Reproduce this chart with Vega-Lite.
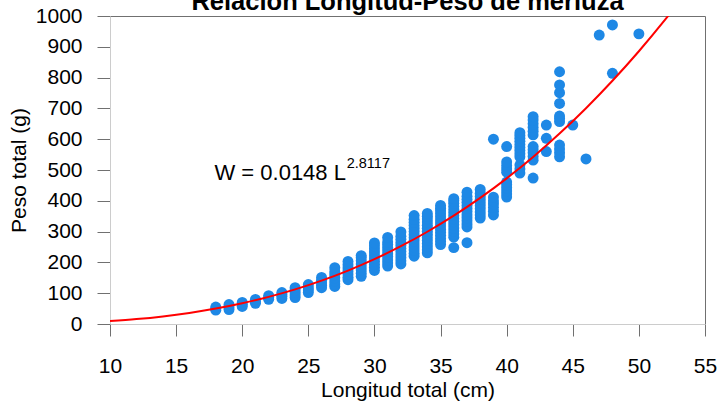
{
  "$schema": "https://vega.github.io/schema/vega-lite/v6.json",
  "autosize": {"type": "none"},
  "width": 595,
  "height": 308,
  "padding": {"left": 110, "top": 16, "right": 12, "bottom": 79},
  "background": "white",
  "config": {
    "font": "Liberation Sans",
    "view": {"stroke": "#707070", "strokeWidth": 1}
  },
  "title": {
    "text": "Relación Longitud-Peso de merluza",
    "font": "Liberation Sans",
    "fontSize": 25.5,
    "fontWeight": "bold",
    "color": "black",
    "anchor": "middle",
    "frame": "group",
    "baseline": "alphabetic",
    "offset": -30
  },
  "datasets": {
    "fish": [
      {"L": 18, "W": 45}, {"L": 18, "W": 50}, {"L": 18, "W": 55},
      {"L": 19, "W": 47}, {"L": 19, "W": 55}, {"L": 19, "W": 63},
      {"L": 20, "W": 57}, {"L": 20, "W": 63}, {"L": 20, "W": 70},
      {"L": 21, "W": 67}, {"L": 21, "W": 73}, {"L": 21, "W": 80},
      {"L": 22, "W": 80}, {"L": 22, "W": 86}, {"L": 22, "W": 92},
      {"L": 23, "W": 83}, {"L": 23, "W": 90}, {"L": 23, "W": 96}, {"L": 23, "W": 102},
      {"L": 24, "W": 86}, {"L": 24, "W": 94}, {"L": 24, "W": 102}, {"L": 24, "W": 110}, {"L": 24, "W": 118},
      {"L": 25, "W": 102}, {"L": 25, "W": 110}, {"L": 25, "W": 118}, {"L": 25, "W": 128},
      {"L": 26, "W": 118}, {"L": 26, "W": 126}, {"L": 26, "W": 134}, {"L": 26, "W": 142}, {"L": 26, "W": 151},
      {"L": 27, "W": 122}, {"L": 27, "W": 130}, {"L": 27, "W": 140}, {"L": 27, "W": 150}, {"L": 27, "W": 160}, {"L": 27, "W": 170}, {"L": 27, "W": 183},
      {"L": 28, "W": 144}, {"L": 28, "W": 152}, {"L": 28, "W": 162}, {"L": 28, "W": 172}, {"L": 28, "W": 182}, {"L": 28, "W": 192}, {"L": 28, "W": 203},
      {"L": 29, "W": 155}, {"L": 29, "W": 165}, {"L": 29, "W": 175}, {"L": 29, "W": 185}, {"L": 29, "W": 195}, {"L": 29, "W": 205}, {"L": 29, "W": 215}, {"L": 29, "W": 222},
      {"L": 30, "W": 174}, {"L": 30, "W": 184}, {"L": 30, "W": 194}, {"L": 30, "W": 204}, {"L": 30, "W": 214}, {"L": 30, "W": 224}, {"L": 30, "W": 234}, {"L": 30, "W": 244}, {"L": 30, "W": 254}, {"L": 30, "W": 263},
      {"L": 31, "W": 188}, {"L": 31, "W": 198}, {"L": 31, "W": 208}, {"L": 31, "W": 218}, {"L": 31, "W": 228}, {"L": 31, "W": 238}, {"L": 31, "W": 248}, {"L": 31, "W": 258}, {"L": 31, "W": 266}, {"L": 31, "W": 281},
      {"L": 32, "W": 195}, {"L": 32, "W": 205}, {"L": 32, "W": 215}, {"L": 32, "W": 225}, {"L": 32, "W": 235}, {"L": 32, "W": 245}, {"L": 32, "W": 255}, {"L": 32, "W": 265}, {"L": 32, "W": 275}, {"L": 32, "W": 285}, {"L": 32, "W": 299},
      {"L": 33, "W": 220}, {"L": 33, "W": 230}, {"L": 33, "W": 240}, {"L": 33, "W": 250}, {"L": 33, "W": 260}, {"L": 33, "W": 270}, {"L": 33, "W": 280}, {"L": 33, "W": 290}, {"L": 33, "W": 300}, {"L": 33, "W": 310}, {"L": 33, "W": 320}, {"L": 33, "W": 330}, {"L": 33, "W": 340}, {"L": 33, "W": 352},
      {"L": 34, "W": 231}, {"L": 34, "W": 241}, {"L": 34, "W": 251}, {"L": 34, "W": 261}, {"L": 34, "W": 271}, {"L": 34, "W": 281}, {"L": 34, "W": 291}, {"L": 34, "W": 301}, {"L": 34, "W": 311}, {"L": 34, "W": 321}, {"L": 34, "W": 331}, {"L": 34, "W": 341}, {"L": 34, "W": 350}, {"L": 34, "W": 359},
      {"L": 35, "W": 258}, {"L": 35, "W": 268}, {"L": 35, "W": 278}, {"L": 35, "W": 288}, {"L": 35, "W": 298}, {"L": 35, "W": 308}, {"L": 35, "W": 318}, {"L": 35, "W": 328}, {"L": 35, "W": 338}, {"L": 35, "W": 348}, {"L": 35, "W": 358}, {"L": 35, "W": 368}, {"L": 35, "W": 376}, {"L": 35, "W": 385},
      {"L": 36, "W": 248}, {"L": 36, "W": 282}, {"L": 36, "W": 292}, {"L": 36, "W": 302}, {"L": 36, "W": 312}, {"L": 36, "W": 322}, {"L": 36, "W": 332}, {"L": 36, "W": 342}, {"L": 36, "W": 352}, {"L": 36, "W": 362}, {"L": 36, "W": 372}, {"L": 36, "W": 382}, {"L": 36, "W": 392}, {"L": 36, "W": 400}, {"L": 36, "W": 407},
      {"L": 37, "W": 264}, {"L": 37, "W": 315}, {"L": 37, "W": 325}, {"L": 37, "W": 335}, {"L": 37, "W": 345}, {"L": 37, "W": 355}, {"L": 37, "W": 365}, {"L": 37, "W": 375}, {"L": 37, "W": 385}, {"L": 37, "W": 395}, {"L": 37, "W": 405}, {"L": 37, "W": 415}, {"L": 37, "W": 428},
      {"L": 38, "W": 344}, {"L": 38, "W": 354}, {"L": 38, "W": 364}, {"L": 38, "W": 374}, {"L": 38, "W": 384}, {"L": 38, "W": 394}, {"L": 38, "W": 404}, {"L": 38, "W": 414}, {"L": 38, "W": 424}, {"L": 38, "W": 437},
      {"L": 39, "W": 354}, {"L": 39, "W": 366}, {"L": 39, "W": 378}, {"L": 39, "W": 390}, {"L": 39, "W": 400}, {"L": 39, "W": 412}, {"L": 39, "W": 600},
      {"L": 40, "W": 412}, {"L": 40, "W": 422}, {"L": 40, "W": 432}, {"L": 40, "W": 442}, {"L": 40, "W": 452}, {"L": 40, "W": 461}, {"L": 40, "W": 493}, {"L": 40, "W": 503}, {"L": 40, "W": 514}, {"L": 40, "W": 526}, {"L": 40, "W": 576},
      {"L": 41, "W": 490}, {"L": 41, "W": 503}, {"L": 41, "W": 516}, {"L": 41, "W": 543}, {"L": 41, "W": 553}, {"L": 41, "W": 563}, {"L": 41, "W": 573}, {"L": 41, "W": 583}, {"L": 41, "W": 593}, {"L": 41, "W": 603}, {"L": 41, "W": 612}, {"L": 41, "W": 621},
      {"L": 42, "W": 474}, {"L": 42, "W": 532}, {"L": 42, "W": 544}, {"L": 42, "W": 556}, {"L": 42, "W": 566}, {"L": 42, "W": 576}, {"L": 42, "W": 614}, {"L": 42, "W": 626}, {"L": 42, "W": 638}, {"L": 42, "W": 650}, {"L": 42, "W": 662}, {"L": 42, "W": 673},
      {"L": 43, "W": 560}, {"L": 43, "W": 603}, {"L": 43, "W": 646},
      {"L": 44, "W": 543}, {"L": 44, "W": 556}, {"L": 44, "W": 568}, {"L": 44, "W": 581}, {"L": 44, "W": 657}, {"L": 44, "W": 667}, {"L": 44, "W": 675}, {"L": 44, "W": 716}, {"L": 44, "W": 751}, {"L": 44, "W": 776}, {"L": 44, "W": 819},
      {"L": 45, "W": 646},
      {"L": 46, "W": 536},
      {"L": 47, "W": 938},
      {"L": 48, "W": 814}, {"L": 48, "W": 971},
      {"L": 50, "W": 942}
    ],
    "curve": [
      {"L": 10, "W": 9.6}, {"L": 12, "W": 16.0}, {"L": 14, "W": 24.7}, {"L": 16, "W": 36.0},
      {"L": 18, "W": 50.1}, {"L": 20, "W": 67.4}, {"L": 22, "W": 88.1}, {"L": 24, "W": 112.5},
      {"L": 26, "W": 140.9}, {"L": 28, "W": 173.5}, {"L": 30, "W": 210.6}, {"L": 32, "W": 252.5},
      {"L": 34, "W": 299.5}, {"L": 36, "W": 351.7}, {"L": 38, "W": 409.4}, {"L": 40, "W": 472.9},
      {"L": 42, "W": 542.4}, {"L": 44, "W": 618.2}, {"L": 46, "W": 700.5}, {"L": 48, "W": 789.6},
      {"L": 50, "W": 885.6}, {"L": 52, "W": 988.9}, {"L": 53, "W": 1043}
    ],
    "labels": [
      {"L": 17.9, "W": 467, "text": "W = 0.0148 L", "size": "big"},
      {"L": 27.9, "W": 508, "text": "2.8117", "size": "small"}
    ]
  },
  "encoding": {
    "x": {
      "field": "L",
      "type": "quantitative",
      "scale": {"domain": [10, 55], "nice": false, "zero": false},
      "axis": {
        "title": "Longitud total (cm)",
        "values": [10, 15, 20, 25, 30, 35, 40, 45, 50, 55],
        "format": "d",
        "grid": false,
        "domainColor": "#cccccc",
        "tickColor": "#707070",
        "tickSize": 12,
        "labelFontSize": 21,
        "labelColor": "black",
        "labelPadding": 19,
        "labelFlush": false,
        "titleFontSize": 21,
        "titleFontWeight": "normal",
        "titleColor": "black",
        "titlePadding": 3
      }
    },
    "y": {
      "field": "W",
      "type": "quantitative",
      "scale": {"domain": [0, 1000], "nice": false},
      "axis": {
        "title": "Peso total (g)",
        "values": [0, 100, 200, 300, 400, 500, 600, 700, 800, 900, 1000],
        "format": "d",
        "grid": false,
        "domainColor": "#cccccc",
        "tickColor": "#707070",
        "tickSize": 13,
        "labelFontSize": 21,
        "labelColor": "black",
        "labelPadding": 15,
        "labelFlush": false,
        "titleFontSize": 21,
        "titleFontWeight": "normal",
        "titleColor": "black",
        "titlePadding": 6
      }
    }
  },
  "layer": [
    {
      "data": {"name": "fish"},
      "mark": {"type": "circle", "size": 120, "color": "#1E88E5", "opacity": 1}
    },
    {
      "data": {"name": "curve"},
      "mark": {"type": "line", "color": "#FF0000", "strokeWidth": 2, "clip": true, "interpolate": "monotone"}
    },
    {
      "data": {"name": "labels"},
      "transform": [{"filter": "datum.size == 'big'"}],
      "mark": {"type": "text", "align": "left", "baseline": "alphabetic", "fontSize": 22, "color": "black"},
      "encoding": {"text": {"field": "text", "type": "nominal"}}
    },
    {
      "data": {"name": "labels"},
      "transform": [{"filter": "datum.size == 'small'"}],
      "mark": {"type": "text", "align": "left", "baseline": "alphabetic", "fontSize": 14.5, "color": "black"},
      "encoding": {"text": {"field": "text", "type": "nominal"}}
    }
  ]
}
